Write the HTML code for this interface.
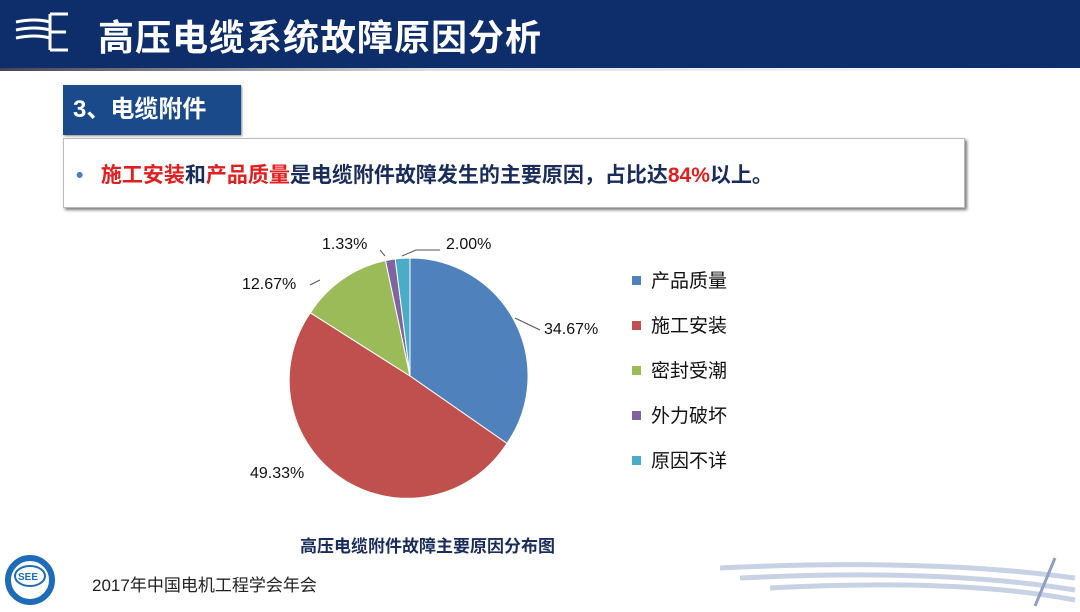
<!DOCTYPE html>
<html><head><meta charset="utf-8"><style>
body{margin:0;width:1080px;height:608px;overflow:hidden;background:#fff;font-family:"Liberation Sans","Noto Sans CJK SC",sans-serif;position:relative}
.hdr{position:absolute;left:0;top:0;width:1080px;height:68px;background:#0e2d6b}
.hdr .t{position:absolute;left:98px;top:9px;font-size:36px;font-weight:bold;color:#fff;letter-spacing:1px}
.sec{position:absolute;left:63px;top:85px;width:178px;height:50px;background:#1b4a8a;color:#fff;font-size:24px;font-weight:bold;line-height:50px;padding-left:10px;box-sizing:border-box;box-shadow:1px 1px 2px #888}
.box{position:absolute;left:63px;top:138px;width:902px;height:70px;border:1px solid #bbb;box-shadow:2px 2px 3px #777;box-sizing:border-box;background:#fff}
.box .txt{position:absolute;left:12px;top:20px;font-size:21px;font-weight:bold;color:#1a2d5a;white-space:nowrap}
.r{color:#e02020}
.lab{position:absolute;font-size:16px;color:#111}
.lg{position:absolute;left:632px;font-size:19px;color:#111}
.lg i{display:inline-block;width:9px;height:9px;margin-right:10px;vertical-align:2px}
</style></head><body>
<div class="hdr">
<svg width="80" height="68" style="position:absolute;left:10px;top:0"><g stroke="#fff" stroke-width="3" fill="none"><path d="M6 22 Q25 18 40 22"/><path d="M6 30 Q25 26 40 30"/><path d="M6 38 Q25 34 40 38"/><path d="M40 14 V50 M40 14 H58 M40 32 H56 M40 50 H58"/></g></svg>
<div class="t">高压电缆系统故障原因分析</div></div>
<div style="position:absolute;left:0;top:68px;width:1080px;height:3px;background:linear-gradient(90deg,#445 0,#ddd 40%,#fff 100%)"></div>
<div class="sec">3、电缆附件</div>
<div class="box"><div class="txt"><span style="color:#4a7cc0">•</span>&nbsp;&nbsp; <span class="r">施工安装</span>和<span class="r">产品质量</span>是电缆附件故障发生的主要原因，占比达<span class="r">84%</span>以上。</div></div>
<svg width="1080" height="608" style="position:absolute;left:0;top:0">
<g stroke="#fff" stroke-width="1">
<path d="M410 376 L410 258 A118 118 0 0 1 506.9 443.4Z" fill="#4f81bd"/>
<path d="M410 376 L506.9 443.4 A118 118 0 1 1 310.4 312.8Z" fill="#c0504d"/>
<path d="M410 376 L310.4 312.8 A118 118 0 0 1 385.5 260.6Z" fill="#9bbb59"/>
<path d="M410 376 L385.5 260.6 A118 118 0 0 1 395.2 258.9Z" fill="#8064a2"/>
<path d="M410 376 L395.2 258.9 A118 118 0 0 1 410 258Z" fill="#4bacc6"/>
</g>
<g stroke="#555" stroke-width="1" fill="none">
<path d="M515 318 L540 330"/><path d="M402 256 L416 250 H440"/><path d="M310 285 L320 280"/><path d="M385 256 L380 250"/></g>
</svg>
<div class="lab" style="left:322px;top:236px">1.33%</div>
<div class="lab" style="left:446px;top:236px">2.00%</div>
<div class="lab" style="left:242px;top:276px">12.67%</div>
<div class="lab" style="left:544px;top:321px">34.67%</div>
<div class="lab" style="left:250px;top:465px">49.33%</div>
<div class="lg" style="top:266px"><i style="background:#4f81bd"></i>产品质量</div>
<div class="lg" style="top:311px"><i style="background:#c0504d"></i>施工安装</div>
<div class="lg" style="top:356px"><i style="background:#9bbb59"></i>密封受潮</div>
<div class="lg" style="top:401px"><i style="background:#8064a2"></i>外力破坏</div>
<div class="lg" style="top:446px"><i style="background:#4bacc6"></i>原因不详</div>
<div style="position:absolute;left:300px;top:532px;font-size:17px;font-weight:bold;color:#1a2d5a">高压电缆附件故障主要原因分布图</div>
<svg width="80" height="60" style="position:absolute;left:2px;top:552px"><circle cx="28" cy="28" r="22" fill="none" stroke="#1e6bb8" stroke-width="6"/><ellipse cx="28" cy="24" rx="15" ry="10" fill="#fff" stroke="#1e6bb8" stroke-width="2"/><text x="16" y="28" font-size="10" font-weight="bold" fill="#1e6bb8" font-family="Liberation Sans">SEE</text></svg>
<div style="position:absolute;left:92px;top:571px;font-size:17px;color:#222">2017年中国电机工程学会年会</div>
<svg width="400" height="70" style="position:absolute;left:680px;top:538px"><g stroke="#c8d2e4" stroke-width="5" fill="none"><path d="M40 30 Q250 20 395 40"/><path d="M60 40 Q260 30 395 52"/><path d="M90 50 Q280 40 395 62"/></g><path d="M375 20 L355 68" stroke="#8fa0c0" stroke-width="3"/></svg>
</body></html>
